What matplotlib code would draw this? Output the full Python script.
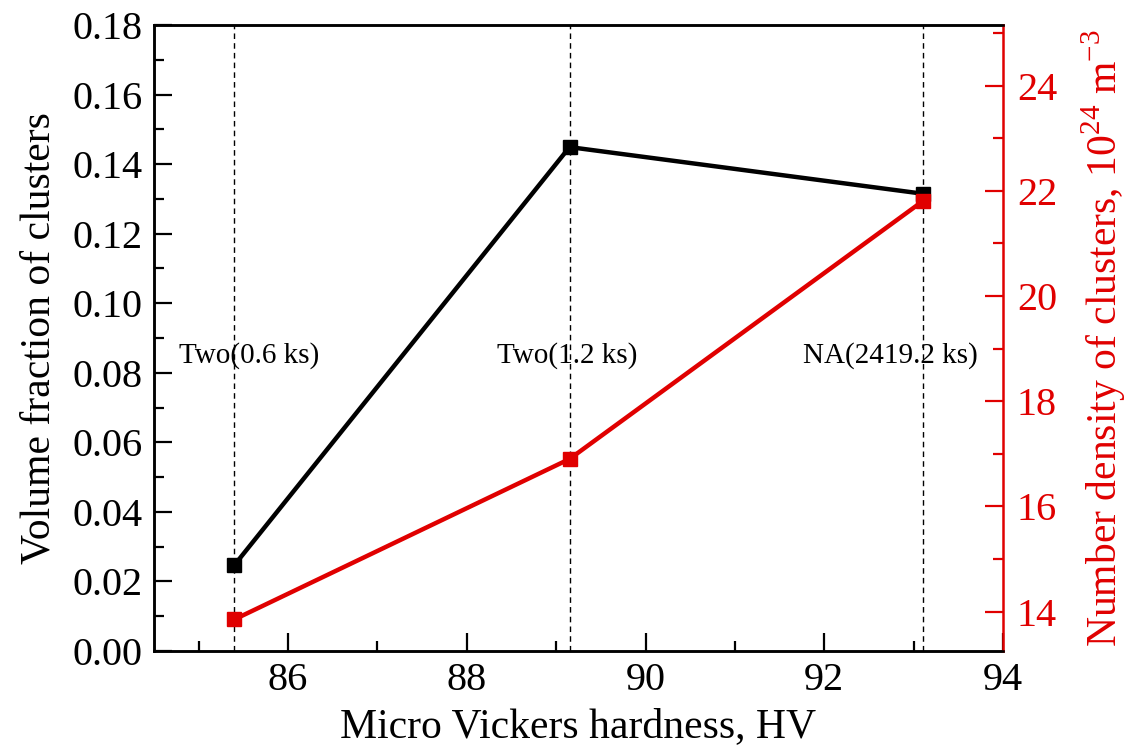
import matplotlib
matplotlib.use("Agg")
import matplotlib.pyplot as plt
from matplotlib.ticker import MultipleLocator, FormatStrFormatter

plt.rcParams['font.family'] = ['Liberation Serif', 'DejaVu Serif']
plt.rcParams['mathtext.fontset'] = 'custom'
plt.rcParams['mathtext.rm'] = 'Liberation Serif'

# Hardness of each heat-treatment state
hardness = [85.4, 89.15, 93.1]
treatments = ["Two(0.6 ks)", "Two(1.2 ks)", "NA(2419.2 ks)"]
label_x = [85.57, 89.12, 92.74]
# Cluster statistics
volume_fraction = [0.0247, 0.1449, 0.1315]
number_density = [13.85, 16.9, 21.8]

RED = "#e00000"

fig = plt.figure(figsize=(11.27, 7.56), dpi=100)
ax = fig.add_axes([0.1366, 0.1389, 0.7534, 0.828])
ax2 = ax.twinx()

for xv in hardness:
    ax.axvline(xv, color="black", lw=1.0, ls=(0, (4, 3)), zorder=1)

ax.plot(hardness, volume_fraction, color="black", lw=3.2, marker="s",
        markersize=10, zorder=3)
ax2.plot(hardness, number_density, color=RED, lw=3.2, marker="s",
         markersize=10, zorder=3)

for xv, t in zip(label_x, treatments):
    ax.text(xv, 0.0851, t, ha="center", va="center", fontsize=21)

ax.set_xlim(84.5, 94)
ax.set_ylim(0, 0.18)
ax2.set_ylim(13.25, 25.15)

ax.xaxis.set_major_locator(MultipleLocator(2))
ax.xaxis.set_minor_locator(MultipleLocator(1))
ax.yaxis.set_major_locator(MultipleLocator(0.02))
ax.yaxis.set_minor_locator(MultipleLocator(0.01))
ax.yaxis.set_major_formatter(FormatStrFormatter("%.2f"))
ax2.yaxis.set_major_locator(MultipleLocator(2))
ax2.yaxis.set_minor_locator(MultipleLocator(1))

ax.tick_params(axis="both", which="major", direction="in", length=13,
               width=1.6, labelsize=29, pad=8, top=False)
ax.tick_params(axis="both", which="minor", direction="in", length=7,
               width=1.6, top=False)
ax2.tick_params(axis="y", which="major", direction="in", length=13,
                width=1.6, labelsize=29, pad=10, colors=RED)
ax2.tick_params(axis="y", which="minor", direction="in", length=7,
                width=1.6, colors=RED)

for s in ["left", "bottom", "top"]:
    ax.spines[s].set_linewidth(1.8)
    ax2.spines[s].set_linewidth(1.8)
ax.spines["right"].set_visible(False)
ax2.spines["right"].set_color(RED)
ax2.spines["right"].set_linewidth(1.8)

ax.set_xlabel("Micro Vickers hardness, HV", fontsize=30, labelpad=6)
ax.set_ylabel("Volume fraction of clusters", fontsize=30, labelpad=10)
ax2.set_ylabel("Number density of clusters, 10$^{24}$ m$^{-3}$", fontsize=30,
               color=RED, labelpad=16)

fig.savefig("out.png", dpi=100)
